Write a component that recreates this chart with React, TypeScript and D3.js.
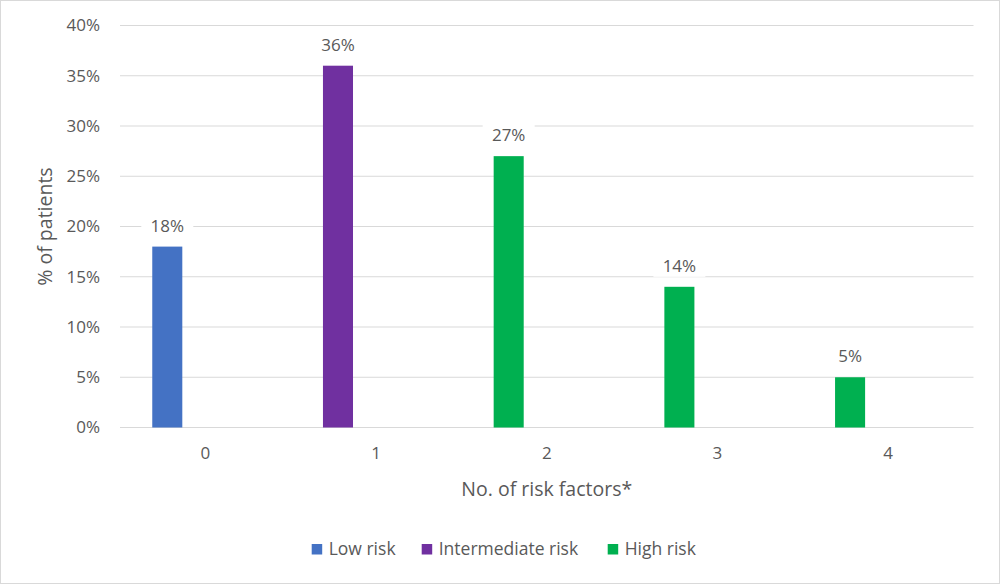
import React, { useEffect, useRef } from "react";
import * as d3 from "d3";

const categories = ["0", "1", "2", "3", "4"];
const seriesNames = ["Low risk", "Intermediate risk", "High risk"];
// which series each category's bar belongs to, and its value (%)
const barSeries = ["Low risk", "Intermediate risk", "High risk", "High risk", "High risk"];
const barValues = [18, 36, 27, 14, 5];
const yTicks = [0, 5, 10, 15, 20, 25, 30, 35, 40];

const colors: Record<string, string> = {
  "Low risk": "#4472C4",
  "Intermediate risk": "#7030A0",
  "High risk": "#00B050",
};

const W = 1000;
const H = 584;
const margin = { top: 25.5, right: 26.5, bottom: 156.5, left: 120 };
const FONT = "'Open Sans', 'Noto Sans', sans-serif";
const TEXT = "#595959";

export default function App() {
  const svgRef = useRef<SVGSVGElement>(null);

  useEffect(() => {
    document.body.style.margin = "0";
    if (!svgRef.current) return;
    const svg = d3.select(svgRef.current);
    svg.selectAll("*").remove();

    const innerW = W - margin.left - margin.right;
    const innerH = H - margin.top - margin.bottom;

    svg
      .append("rect")
      .attr("x", 0.5)
      .attr("y", 0.5)
      .attr("width", W - 1)
      .attr("height", H - 1)
      .attr("fill", "#fff")
      .attr("stroke", "#d9d9d9");

    const g = svg.append("g").attr("transform", `translate(${margin.left},${margin.top})`);

    const x = d3.scaleBand().domain(categories).range([0, innerW]).padding(0);
    const y = d3.scaleLinear().domain([0, 40]).range([innerH, 0]);

    // gridlines
    g.append("g")
      .selectAll("line")
      .data(yTicks)
      .join("line")
      .attr("x1", 0)
      .attr("x2", innerW)
      .attr("y1", (d) => y(d))
      .attr("y2", (d) => y(d))
      .attr("stroke", "#d9d9d9")
      .attr("stroke-width", 1);

    // y tick labels
    g.append("g")
      .selectAll("text")
      .data(yTicks)
      .join("text")
      .attr("x", -20)
      .attr("y", (d) => y(d))
      .attr("dy", "0.35em")
      .attr("text-anchor", "end")
      .attr("font-family", FONT)
      .attr("font-size", 17)
      .attr("fill", TEXT)
      .text((d) => `${d}%`);

    // x tick labels
    g.append("g")
      .selectAll("text")
      .data(categories)
      .join("text")
      .attr("x", (d) => (x(d) ?? 0) + x.bandwidth() / 2)
      .attr("y", innerH + 26)
      .attr("dy", "0.35em")
      .attr("text-anchor", "middle")
      .attr("font-family", FONT)
      .attr("font-size", 17)
      .attr("fill", TEXT)
      .text((d) => d);

    const barOffset = 0.189;
    const barWidth = 0.176 * x.bandwidth();
    const bx = (c: string) => (x(c) ?? 0) + barOffset * x.bandwidth();

    // bars
    g.append("g")
      .selectAll("rect")
      .data(categories)
      .join("rect")
      .attr("x", (c) => bx(c))
      .attr("y", (c, i) => y(barValues[i]))
      .attr("width", barWidth)
      .attr("height", (c, i) => innerH - y(barValues[i]))
      .attr("fill", (c, i) => colors[barSeries[i]]);

    // data labels with white backing
    const labels = g
      .append("g")
      .selectAll("g")
      .data(categories)
      .join("g")
      .attr(
        "transform",
        (c, i) => `translate(${bx(c) + barWidth / 2},${y(barValues[i]) - 21})`
      );
    labels
      .append("rect")
      .attr("x", -26)
      .attr("y", -11)
      .attr("width", 52)
      .attr("height", 22)
      .attr("fill", "#fff");
    labels
      .append("text")
      .attr("text-anchor", "middle")
      .attr("dy", "0.35em")
      .attr("font-family", FONT)
      .attr("font-size", 17)
      .attr("fill", TEXT)
      .text((c, i) => `${barValues[i]}%`);

    // axis titles
    svg
      .append("text")
      .attr("transform", `translate(45,${margin.top + innerH / 2}) rotate(-90)`)
      .attr("text-anchor", "middle")
      .attr("dy", "0.35em")
      .attr("font-family", FONT)
      .attr("font-size", 19.5)
      .attr("fill", TEXT)
      .text("% of patients");

    svg
      .append("text")
      .attr("x", margin.left + innerW / 2)
      .attr("y", 489)
      .attr("text-anchor", "middle")
      .attr("dy", "0.35em")
      .attr("font-family", FONT)
      .attr("font-size", 19.5)
      .attr("fill", TEXT)
      .text("No. of risk factors*");

    // legend
    const legendX = [311.7, 421.7, 607.7];
    const legend = svg
      .append("g")
      .selectAll("g")
      .data(seriesNames)
      .join("g")
      .attr("transform", (d, i) => `translate(${legendX[i]},549)`);
    legend
      .append("rect")
      .attr("x", 0)
      .attr("y", -5)
      .attr("width", 10.5)
      .attr("height", 10.5)
      .attr("fill", (d) => colors[d]);
    legend
      .append("text")
      .attr("x", 17)
      .attr("dy", "0.35em")
      .attr("font-family", FONT)
      .attr("font-size", 17.5)
      .attr("fill", TEXT)
      .text((d) => d);
  }, []);

  return <svg ref={svgRef} width={W} height={H} style={{ display: "block" }} />;
}
